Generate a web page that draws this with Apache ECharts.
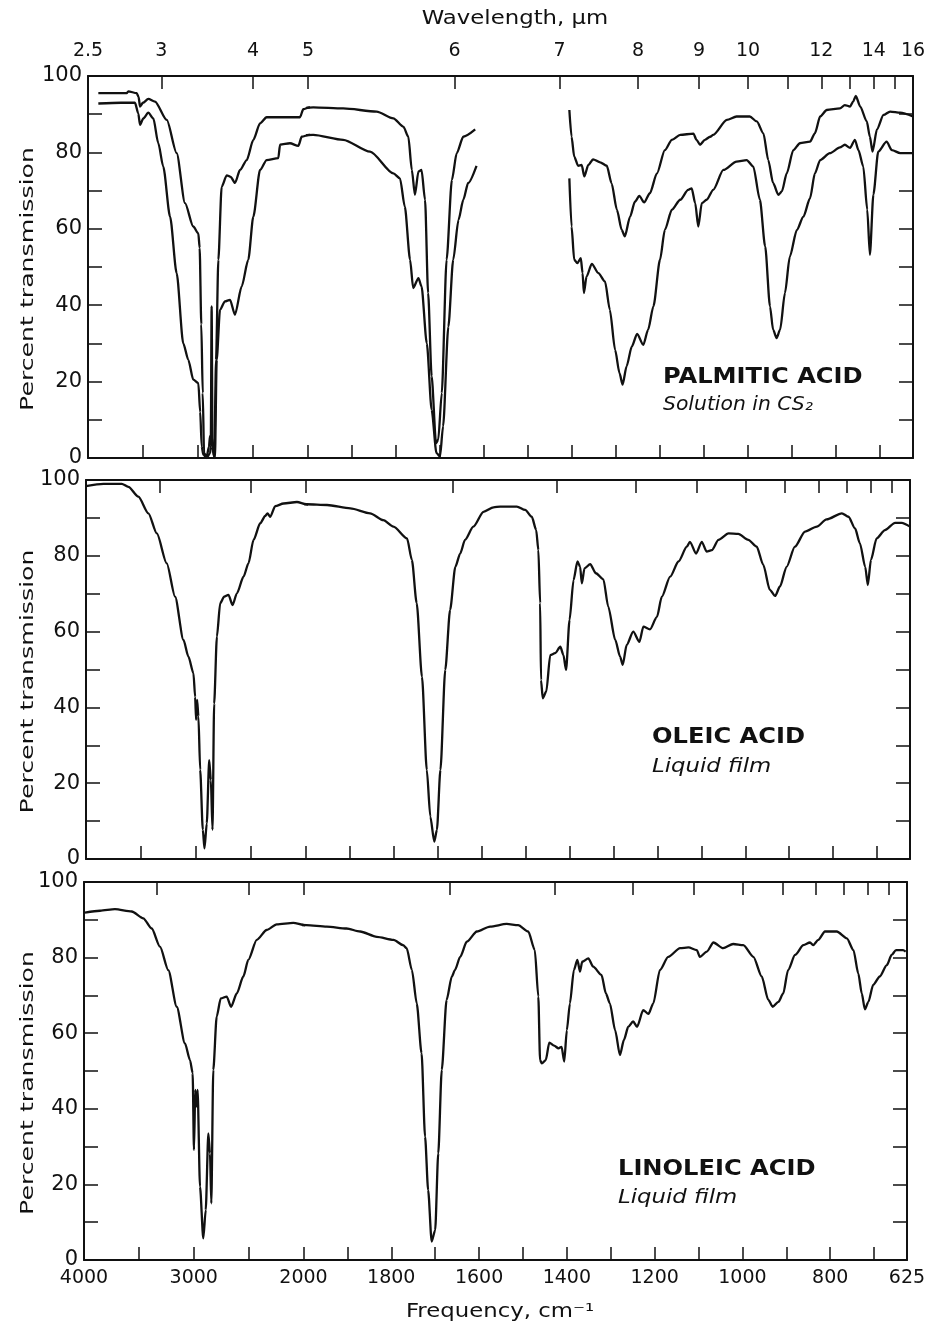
<!DOCTYPE html>
<html>
<head>
<meta charset="utf-8">
<script src="https://cdn.jsdelivr.net/npm/echarts@6/dist/echarts.min.js"></script>
<style>
  html, body { margin: 0; background: #fff; }
  #chart { width: 933px; height: 1332px; }
</style>
</head>
<body>
<div id="chart"></div>
<script>
(function () {
  // axis values
  var freqTicksHigh = [3500, 3000, 2500, 2000];
  var freqTicksLow = [1900, 1800, 1700, 1600, 1500, 1400, 1300, 1200, 1100, 1000, 900, 800, 700];
  var freqLabelsHigh = [4000, 3000, 2000];
  var freqLabelsLow = [1800, 1600, 1400, 1200, 1000, 800, 625];
  var waveTicks = [3, 4, 5, 6, 7, 8, 9, 10, 11, 12, 13, 14, 15];
  var waveLabels = [2.5, 3, 4, 5, 6, 7, 8, 9, 10, 12, 14, 16];

  // spectra: [frequency cm-1, percent transmission]
  var palmUpperA = [
    [3906, 95.5], [3760, 95.5], [3648, 95.5], [3634, 96], [3557, 95.5], [3540, 94.5], [3527, 92],
    [3500, 93], [3452, 94], [3391, 93.3], [3284, 88.5], [3194, 79.8], [3118, 66.7], [3043, 60.6],
    [2997, 58.8], [2985, 55], [2970, 35], [2957, 17], [2945, 1.3], [2921, 0.4], [2900, 3],
    [2891, 5.7], [2876, 6], [2861, 1.3], [2852, 0.4], [2836, 25.7], [2815, 51.9], [2785, 71],
    [2739, 74], [2703, 73.6], [2664, 72], [2618, 75.4], [2557, 78], [2497, 83.3], [2436, 87.6],
    [2376, 89.2], [2254, 89.2], [2073, 89.2], [2043, 91.3], [1988, 91.8], [1920, 91.5],
    [1844, 90.7], [1806, 88.9], [1783, 86.7], [1772, 84.1], [1764, 75.4], [1757, 68.9],
    [1749, 75], [1742, 75.4], [1734, 67.6], [1727, 43.2], [1719, 21.4], [1709, 3.9], [1704, 4.8],
    [1696, 17], [1685, 51.9], [1673, 72.8], [1662, 79.8], [1647, 84.1], [1620, 86]
  ];
  var palmLowerA = [
    [3906, 92.8], [3700, 93], [3573, 93], [3543, 90.2], [3527, 87.2], [3497, 88.9], [3452, 90.4],
    [3406, 88.9], [3361, 82.4], [3316, 76.3], [3254, 63.2], [3194, 48.4], [3134, 30], [3088, 25.7],
    [3043, 20.5], [2997, 19.6], [2980, 12], [2966, 3], [2952, 0.9], [2921, 0], [2890, 1.3],
    [2884, 3], [2876, 39.7], [2868, 3], [2858, 1], [2846, 0], [2830, 25.7], [2800, 38.8],
    [2755, 41], [2709, 41.4], [2664, 37.5], [2603, 44.9], [2543, 51.9], [2497, 63.2], [2436, 75.4],
    [2376, 78], [2270, 78.5], [2254, 82], [2164, 82.4], [2088, 81.7], [2057, 84.1], [1988, 84.6],
    [1920, 83.3], [1859, 80.2], [1806, 74.5], [1791, 73.2], [1780, 65.8], [1768, 51.9],
    [1761, 44.5], [1749, 47.1], [1742, 44.9], [1730, 30], [1719, 12.6], [1708, 1.3], [1700, 0.4],
    [1693, 8.3], [1681, 34.4], [1670, 51.9], [1658, 62.3], [1647, 67.6], [1636, 72], [1617, 76.5]
  ];
  var palmUpperB = [
    [1406, 91.1], [1401, 84.1], [1395, 78.9], [1386, 76.5], [1378, 76.7], [1372, 73.7], [1363, 76.7],
    [1352, 78.2], [1336, 77.4], [1321, 76.5], [1310, 71.9], [1298, 65], [1287, 59.7], [1280, 58],
    [1268, 63.2], [1257, 67.1], [1247, 68.6], [1236, 66.9], [1223, 69.3], [1207, 74.5], [1189, 80.6],
    [1173, 83.3], [1154, 84.6], [1124, 84.9], [1117, 83.3], [1109, 82], [1098, 83.3], [1086, 84.1],
    [1079, 84.6], [1048, 88.5], [1026, 89.4], [996, 89.4], [980, 88.1], [965, 85], [954, 78],
    [943, 72], [931, 68.9], [923, 69.8], [912, 74.5], [897, 80.6], [882, 82.4], [859, 82.8],
    [848, 85], [836, 89.4], [821, 91.1], [791, 91.5], [780, 92.4], [768, 92], [761, 93.3],
    [755, 94.8], [745, 92], [730, 88.1], [723, 84.1], [717, 80.2], [707, 86], [692, 89.8],
    [677, 90.7], [654, 90.4], [625, 89.4]
  ];
  var palmLowerB = [
    [1406, 73.2], [1401, 60.6], [1395, 51.9], [1388, 51], [1380, 52.3], [1376, 48.4], [1373, 43.2],
    [1367, 47.5], [1355, 50.8], [1340, 48.4], [1325, 46.2], [1314, 38.8], [1302, 28.3], [1292, 22.2],
    [1285, 19.2], [1276, 24], [1264, 29.2], [1252, 32.5], [1238, 29.6], [1227, 33.6], [1215, 39.7],
    [1200, 51.9], [1189, 59.7], [1173, 65], [1154, 67.6], [1136, 70.2], [1128, 70.6], [1120, 66.7],
    [1113, 60.6], [1105, 66.7], [1094, 67.6], [1079, 70.2], [1056, 75.4], [1026, 77.6], [1003, 78],
    [988, 76.3], [973, 67.6], [961, 55.4], [950, 39.7], [943, 33.6], [935, 31.4], [927, 33.6],
    [916, 43.2], [905, 52.7], [889, 59.7], [874, 63.2], [859, 68], [848, 74.5], [836, 78],
    [814, 79.8], [791, 81.3], [780, 82], [768, 81.2], [757, 83.3], [749, 80.6], [738, 76.3],
    [729, 65], [723, 53.2], [715, 69], [704, 80.2], [685, 82.8], [673, 80.6], [654, 79.8], [625, 79.8]
  ];
  var oleic = [
    [4000, 98.4], [3842, 99], [3675, 99], [3615, 98.2], [3524, 95.6], [3433, 91.2], [3356, 85.9],
    [3266, 78], [3190, 69.2], [3114, 57.8], [3069, 53.4], [3023, 49], [3008, 42.8], [2999, 36.7],
    [2990, 42], [2978, 37.6], [2962, 23.5], [2938, 7.7], [2923, 2.8], [2902, 9.4], [2880, 26.1],
    [2865, 20.8], [2850, 7.7], [2835, 41], [2810, 58.7], [2780, 67.5], [2744, 69.2], [2705, 69.7],
    [2668, 67], [2628, 70.1], [2568, 74.5], [2523, 78], [2477, 84.2], [2416, 88.6], [2371, 90.5],
    [2350, 91.2], [2325, 90.3], [2280, 93.1], [2204, 93.8], [2082, 94.2], [1998, 93.6], [1952, 93.4],
    [1899, 92.5], [1854, 91.2], [1824, 89.4], [1801, 87.7], [1770, 84.6], [1759, 78.9], [1748, 67.5],
    [1736, 48.1], [1725, 23.5], [1717, 11.2], [1708, 4.6], [1702, 7.7], [1694, 23.5], [1683, 49.9],
    [1672, 65.7], [1660, 77.1], [1649, 80.6], [1638, 84.2], [1619, 87.7], [1596, 91.6], [1573, 92.8],
    [1558, 93], [1520, 93], [1501, 92.1], [1486, 90.3], [1476, 86.8], [1471, 81.5], [1467, 67.5],
    [1465, 47.2], [1461, 42.4], [1453, 44.2], [1444, 53.8], [1433, 54.3], [1421, 56], [1414, 53.8],
    [1408, 49.9], [1400, 63.1], [1391, 73.6], [1382, 78.5], [1376, 77.1], [1372, 72.7], [1366, 76.7],
    [1353, 77.8], [1340, 75.4], [1323, 73.8], [1312, 66.6], [1296, 57.8], [1285, 53.4], [1279, 51.2],
    [1270, 56.5], [1255, 60], [1241, 57.3], [1232, 61.3], [1217, 60.6], [1201, 63.9], [1190, 69.2],
    [1171, 74.5], [1152, 78.5], [1133, 82.4], [1126, 83.7], [1112, 80.6], [1099, 83.7], [1088, 81.1],
    [1076, 81.5], [1061, 84.2], [1038, 85.9], [1016, 85.8], [993, 84.2], [974, 82.4], [959, 77.6],
    [944, 71], [932, 69.4], [921, 71.9], [906, 77.1], [887, 82.4], [864, 86.4], [837, 87.7],
    [815, 89.6], [780, 91.2], [765, 90.3], [750, 87.2], [739, 83.3], [727, 77.1], [721, 72.3],
    [714, 78.9], [701, 84.6], [682, 86.8], [659, 88.7], [644, 88.7], [625, 87.7]
  ];
  var linoleic = [
    [3991, 91.9], [3854, 92.4], [3718, 92.8], [3565, 92.2], [3460, 90.4], [3383, 87.7], [3308, 82.9],
    [3232, 76.7], [3155, 67], [3080, 57.3], [3034, 52.9], [3010, 49.4], [2998, 29.1], [2986, 45],
    [2973, 40.6], [2965, 45], [2943, 19.4], [2913, 5.7], [2891, 13.2], [2867, 33.5], [2852, 28.2],
    [2840, 15], [2822, 50.3], [2791, 64.4], [2754, 69.2], [2700, 69.7], [2660, 67], [2608, 70.5],
    [2548, 75], [2503, 79.4], [2426, 84.7], [2335, 87.3], [2244, 88.8], [2093, 89.2], [1993, 88.6],
    [1947, 88.2], [1902, 87.7], [1871, 86.9], [1833, 85.5], [1795, 84.7], [1773, 83.3], [1765, 82.5],
    [1753, 76.7], [1742, 67.9], [1731, 54.7], [1723, 32.6], [1716, 18.5], [1708, 4.9], [1700, 7.9],
    [1693, 28.2], [1685, 50.3], [1674, 68.8], [1662, 75], [1655, 76.7], [1643, 80.2], [1628, 84.2],
    [1605, 86.9], [1575, 88.2], [1537, 88.9], [1511, 88.6], [1488, 86.9], [1473, 82], [1465, 69.7],
    [1461, 52.9], [1457, 52], [1448, 52.9], [1440, 57.5], [1429, 56.7], [1419, 56], [1412, 56.4],
    [1406, 52.5], [1400, 60.8], [1393, 67.9], [1384, 76.7], [1376, 79.4], [1370, 76.3], [1365, 78.9],
    [1351, 79.8], [1340, 77.6], [1321, 75.4], [1311, 70.5], [1302, 67.9], [1290, 60.8], [1279, 54.2],
    [1270, 58.2], [1260, 61.7], [1249, 63.1], [1240, 61.7], [1226, 66.1], [1214, 65.1], [1203, 67.9],
    [1188, 76.7], [1169, 80.2], [1142, 82.5], [1123, 82.7], [1104, 82], [1097, 80.2], [1081, 81.6],
    [1066, 84], [1044, 82.5], [1021, 83.6], [998, 83.3], [975, 80.2], [956, 75], [941, 68.8],
    [931, 67], [918, 68.3], [907, 70.5], [896, 76.7], [880, 80.7], [861, 83.3], [846, 84], [839, 83.3],
    [827, 84.7], [812, 86.9], [785, 86.9], [762, 85.1], [747, 82], [736, 75.8], [728, 70.5],
    [721, 66.3], [713, 68.3], [702, 72.8], [687, 75], [671, 78], [660, 80.7], [650, 82], [634, 82],
    [628, 81.6]
  ];

  var ink = "#111";
  var font = "DejaVu Sans";

  var panels = [
    { top: 76, height: 382, left: 88, split: 308, right: 913,
      curves: [palmUpperA, palmLowerA, palmUpperB, palmLowerB], waveText: true, freqText: false },
    { top: 480, height: 379, left: 86, split: 306, right: 910,
      curves: [oleic], waveText: false, freqText: false },
    { top: 882, height: 378, left: 84, split: 303.5, right: 907,
      curves: [linoleic], waveText: false, freqText: true }
  ];

  var toFreq = function (w) { return 10000 / w; };
  var grids = [], xAxes = [], yAxes = [], series = [];
  var frameLine = { show: true, onZero: false, lineStyle: { color: ink, width: 2 } };
  var tickStyle = { color: ink, width: 1.5 };

  panels.forEach(function (p) {
    [0, 1].forEach(function (half) {
      var g = grids.length;
      var high = half === 0;
      var lo = high ? 2000 : 625, hi = high ? 4000 : 2000;
      var inHalf = function (f) { return high ? f >= 2000 : f < 2000; };
      var sideOf = function (f) { return high ? f >= 1999 : f < 1999; };
      grids.push({
        left: high ? p.left : p.split,
        top: p.top,
        width: high ? p.split - p.left : p.right - p.split,
        height: p.height
      });
      // frequency axis (bottom)
      xAxes.push({
        gridIndex: g, type: "value", min: lo, max: hi, inverse: true, position: "bottom",
        axisLine: frameLine,
        axisTick: { show: true, inside: true, length: 13, lineStyle: tickStyle,
          customValues: high ? freqTicksHigh : freqTicksLow },
        axisLabel: { show: p.freqText, customValues: high ? freqLabelsHigh : freqLabelsLow,
          formatter: function (v) { return String(v); },
          margin: 9, color: ink, fontFamily: font, fontSize: 19, hideOverlap: false },
        splitLine: { show: false }
      });
      // wavelength axis (top)
      xAxes.push({
        gridIndex: g, type: "value", min: lo, max: hi, inverse: true, position: "top",
        axisLine: frameLine,
        axisTick: { show: true, inside: true, length: 13, lineStyle: tickStyle,
          customValues: waveTicks.map(toFreq).filter(sideOf) },
        axisLabel: { show: p.waveText,
          customValues: waveLabels.map(toFreq).filter(sideOf),
          formatter: function (v) { return String(+(10000 / v).toFixed(1)); },
          margin: 15, color: ink, fontFamily: font, fontSize: 19, hideOverlap: false },
        splitLine: { show: false }
      });
      yAxes.push({
        gridIndex: g, type: "value", min: 0, max: 100, interval: 10,
        position: high ? "left" : "right",
        axisLine: frameLine,
        axisTick: { show: true, inside: true, length: 14, lineStyle: tickStyle },
        axisLabel: { show: high, margin: 6, color: ink, fontFamily: font, fontSize: 21,
          formatter: function (v) { return v % 20 === 0 ? String(v) : ""; } },
        splitLine: { show: false }
      });
      p.curves.forEach(function (c) {
        if (!c.some(function (d) { return inHalf(d[0]); })) return;
        series.push({
          type: "line", xAxisIndex: 2 * g, yAxisIndex: g, data: c,
          showSymbol: false, smooth: 0.25, smoothMonotone: "x", clip: true,
          lineStyle: { color: ink, width: 2.3 }, silent: true, animation: false
        });
      });
    });
  });

  var txt = function (s, x, y, opt) {
    return {
      type: "text", x: x, y: y, rotation: opt.rotation || 0, scaleX: opt.scaleX || 1,
      silent: true,
      style: {
        text: s, fill: ink, align: opt.align || "left", verticalAlign: "middle",
        font: (opt.style || "normal") + " " + (opt.weight || "normal") + " " + opt.size + "px '" + font + "'"
      }
    };
  };

  var graphics = [
    txt("Wavelength, µm", 515, 19, { size: 19, align: "center", scaleX: 1.2 }),
    txt("Frequency, cm⁻¹", 500, 1312, { size: 19, align: "center", scaleX: 1.2 }),
    txt("PALMITIC ACID", 663, 378, { size: 21, weight: "bold", scaleX: 1.15 }),
    txt("Solution in CS₂", 663, 405, { size: 19, style: "italic", scaleX: 1.07 }),
    txt("OLEIC ACID", 652, 738, { size: 21, weight: "bold", scaleX: 1.15 }),
    txt("Liquid film", 652, 767, { size: 19, style: "italic", scaleX: 1.2 }),
    txt("LINOLEIC ACID", 618, 1170, { size: 21, weight: "bold", scaleX: 1.15 }),
    txt("Liquid film", 618, 1198, { size: 19, style: "italic", scaleX: 1.2 })
  ];
  panels.forEach(function (p) {
    graphics.push(txt("Percent transmission", 28, p.top + p.height / 2 + 12,
      { size: 18, align: "center", rotation: Math.PI / 2, scaleX: 1.4 }));
  });

  var myChart = echarts.init(document.getElementById("chart"), null, { renderer: "canvas" });
  myChart.setOption({
    backgroundColor: "#fff",
    animation: false,
    grid: grids,
    xAxis: xAxes,
    yAxis: yAxes,
    series: series,
    graphic: graphics
  });
})();
</script>
</body>
</html>
